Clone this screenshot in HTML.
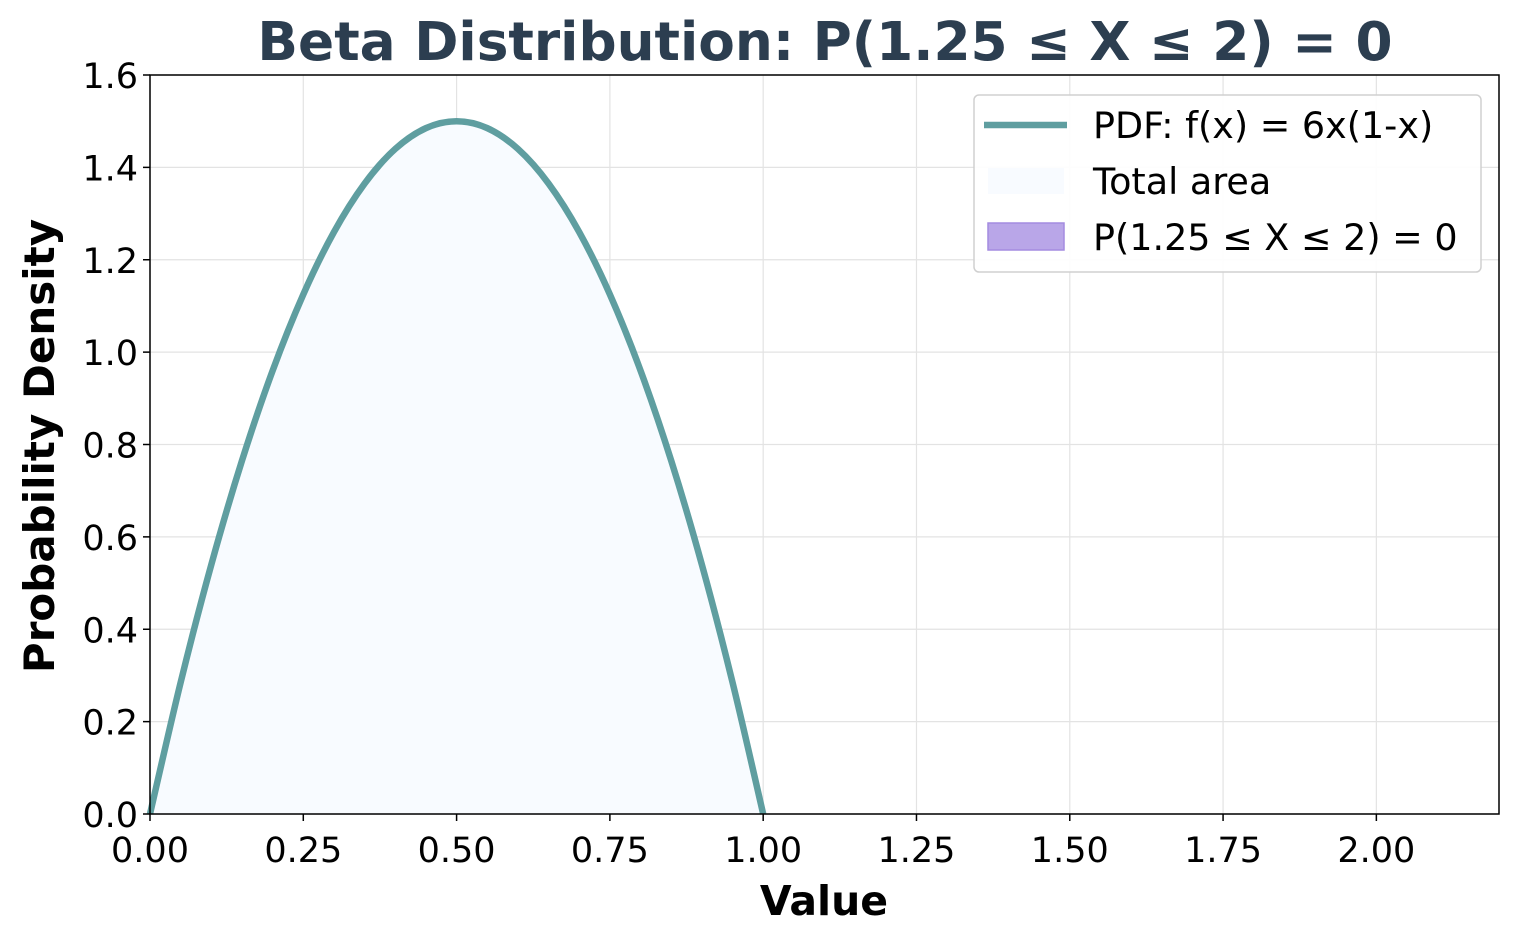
<!DOCTYPE html>
<html><head><meta charset="utf-8"><style>
body{margin:0;background:#fff;}
svg text{font-family:"DejaVu Sans","Liberation Sans",sans-serif;}
</style></head><body>
<svg id="chart" width="1519" height="942" xmlns="http://www.w3.org/2000/svg">
<rect width="1519" height="942" fill="#fff"/>
<text x="825" y="60" text-anchor="middle" font-size="53.3" font-weight="bold" fill="#2c3e50">Beta Distribution: P(1.25 ≤ X ≤ 2) = 0</text>
<g id="grid"></g>
<g id="marks"></g>
<rect x="150" y="75" width="1349" height="739" fill="none" stroke="#000" stroke-width="1.5"/>
<g id="ticks"></g>
<text x="824" y="915" text-anchor="middle" font-size="41" font-weight="bold">Value</text>
<text transform="translate(54,446) rotate(-90)" text-anchor="middle" font-size="42" font-weight="bold">Probability Density</text>
<g>
<rect x="974" y="95" width="507" height="177" rx="5" fill="#fff" fill-opacity="0.9" stroke="#d0d0d0" stroke-width="1.5"/>
<line x1="984" y1="125" x2="1067" y2="125" stroke="#5f9ea0" stroke-width="6.5"/>
<text x="1093" y="138" font-size="36.5">PDF: f(x) = 6x(1-x)</text>
<rect x="988" y="168" width="76" height="26" fill="#f8fbff"/>
<text x="1093" y="194" font-size="36.5">Total area</text>
<rect x="988" y="223" width="76" height="27" fill="#b9a6e8" stroke="#a48ce0" stroke-width="1.5"/>
<text x="1093" y="250" font-size="36.5">P(1.25 ≤ X ≤ 2) = 0</text>
</g>
</svg>
<script>
const xVals=[0,0.05,0.1,0.15,0.2,0.25,0.3,0.35,0.4,0.45,0.5,0.55,0.6,0.65,0.7,0.75,0.8,0.85,0.9,0.95,1.0];
const pdfVals=[0,0.285,0.54,0.765,0.96,1.125,1.26,1.365,1.44,1.485,1.5,1.485,1.44,1.365,1.26,1.125,0.96,0.765,0.54,0.285,0];
const xTicks=[0,0.25,0.5,0.75,1.0,1.25,1.5,1.75,2.0];
const xTickLabels=["0.00","0.25","0.50","0.75","1.00","1.25","1.50","1.75","2.00"];
const yTicks=[0,0.2,0.4,0.6,0.8,1.0,1.2,1.4,1.6];
const yTickLabels=["0.0","0.2","0.4","0.6","0.8","1.0","1.2","1.4","1.6"];
const X0=150,X1=1499,Y0=814,Y1=75,XMAX=2.2,YMAX=1.6;
const sx=v=>X0+v/XMAX*(X1-X0);
const sy=v=>Y0-v/YMAX*(Y0-Y1);
const NS="http://www.w3.org/2000/svg";
const grid=document.getElementById('grid'),ticks=document.getElementById('ticks'),marks=document.getElementById('marks');
function mk(tag,attrs,parent){const e=document.createElementNS(NS,tag);for(const k in attrs)e.setAttribute(k,attrs[k]);parent.appendChild(e);return e;}
xTicks.forEach((t,i)=>{
 const g=mk('line',{x1:sx(t),x2:sx(t),y1:Y1,y2:Y0,stroke:'#e3e3e3','stroke-width':1.2},grid);
 
 
 const tk=mk('line',{x1:sx(t),x2:sx(t),y1:Y0,y2:Y0+7,stroke:'#000','stroke-width':1.5},ticks);
 
 
 const tx=mk('text',{x:sx(t),y:Y0+48,'text-anchor':'middle','font-size':35},ticks);
 tx.textContent=xTickLabels[i];
 
 
});
yTicks.forEach((t,i)=>{
 const g=mk('line',{x1:X0,x2:X1,y1:sy(t),y2:sy(t),stroke:'#e3e3e3','stroke-width':1.2},grid);
 
 
 const tk=mk('line',{x1:X0-7,x2:X0,y1:sy(t),y2:sy(t),stroke:'#000','stroke-width':1.5},ticks);
 
 
 const tx=mk('text',{x:X0-12,y:sy(t)+13,'text-anchor':'end','font-size':35},ticks);
 tx.textContent=yTickLabels[i];
 
 
});
function smooth(pts){let d=`M${pts[0][0]},${pts[0][1]}`;for(let i=0;i<pts.length-1;i++){const p0=pts[i-1]||pts[i],p1=pts[i],p2=pts[i+1],p3=pts[i+2]||p2;
 d+=` C${p1[0]+(p2[0]-p0[0])/6},${p1[1]+(p2[1]-p0[1])/6} ${p2[0]-(p3[0]-p1[0])/6},${p2[1]-(p3[1]-p1[1])/6} ${p2[0]},${p2[1]}`;}return d;}
const pts=xVals.map((x,i)=>[sx(x),sy(pdfVals[i])]);
const area=mk('path',{d:smooth(pts)+` L${sx(xVals[xVals.length-1])},${sy(0)} L${sx(xVals[0])},${sy(0)} Z`,fill:'#f8fbff'},marks);


const line=mk('path',{d:smooth(pts),fill:'none',stroke:'#5f9ea0','stroke-width':6.5},marks);


</script>
</body></html>
